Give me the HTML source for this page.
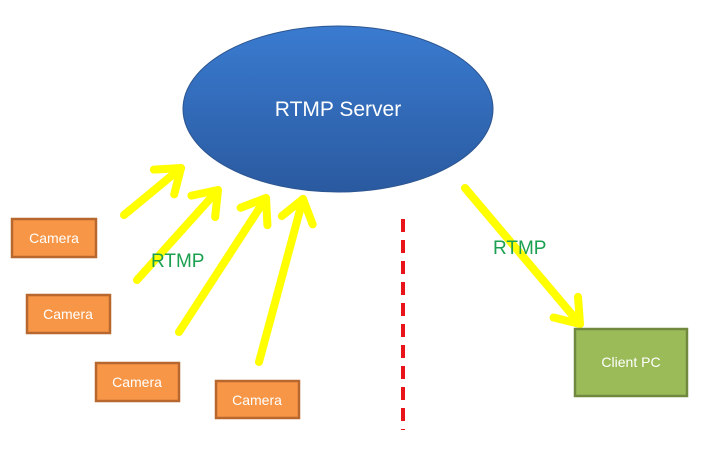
<!DOCTYPE html>
<html><head><meta charset="utf-8"><style>
html,body{margin:0;padding:0;background:#fff;}
svg{display:block;}
text{font-family:"Liberation Sans",sans-serif;}
</style></head><body>
<svg width="707" height="457" viewBox="0 0 707 457" xmlns="http://www.w3.org/2000/svg">
<defs>
<linearGradient id="eg" x1="0" y1="0" x2="0" y2="1">
<stop offset="0" stop-color="#3a7bd0"/><stop offset="1" stop-color="#2a5aa0"/>
</linearGradient>
<marker id="ah" markerUnits="userSpaceOnUse" markerWidth="60" markerHeight="60" refX="30" refY="30" orient="auto">
<polyline points="8,14 30,30 8,46" fill="none" stroke="#ffff00" stroke-width="8" stroke-linecap="round" stroke-linejoin="round"/>
</marker>
</defs>
<ellipse cx="338" cy="109" rx="155" ry="83" fill="url(#eg)" stroke="#2c5590" stroke-width="1"/>
<text x="338" y="116" font-size="21" fill="#fff" text-anchor="middle">RTMP Server</text>

<g stroke="#ffff00" stroke-width="8" stroke-linecap="round" fill="none" marker-end="url(#ah)">
<line x1="124" y1="215" x2="181" y2="168"/>
<line x1="137" y1="280" x2="218" y2="190"/>
<line x1="179" y1="332" x2="266" y2="198"/>
<line x1="259" y1="362" x2="303" y2="199"/>
<line x1="465" y1="188" x2="580" y2="324"/>
</g>

<line x1="403" y1="219" x2="403" y2="430" stroke="#e8141a" stroke-width="4" stroke-dasharray="13,8"/>

<text x="151" y="267" font-size="19" fill="#1aa050">RTMP</text>
<text x="493" y="254" font-size="19" fill="#1aa050">RTMP</text>

<g fill="#f79646" stroke="#b8682e" stroke-width="2.5">
<rect x="12" y="219" width="84" height="38"/>
<rect x="27" y="295" width="83" height="38"/>
<rect x="96" y="363" width="83" height="38"/>
<rect x="216" y="381" width="83" height="37"/>
</g>
<g font-size="14" fill="#fff" text-anchor="middle">
<text x="54" y="243">Camera</text>
<text x="68" y="319">Camera</text>
<text x="137" y="387">Camera</text>
<text x="257" y="405">Camera</text>
</g>
<rect x="575" y="329" width="112" height="67" fill="#9bbb59" stroke="#71893f" stroke-width="2.5"/>
<text x="631" y="367" font-size="14" fill="#fff" text-anchor="middle">Client PC</text>
</svg>
</body></html>
